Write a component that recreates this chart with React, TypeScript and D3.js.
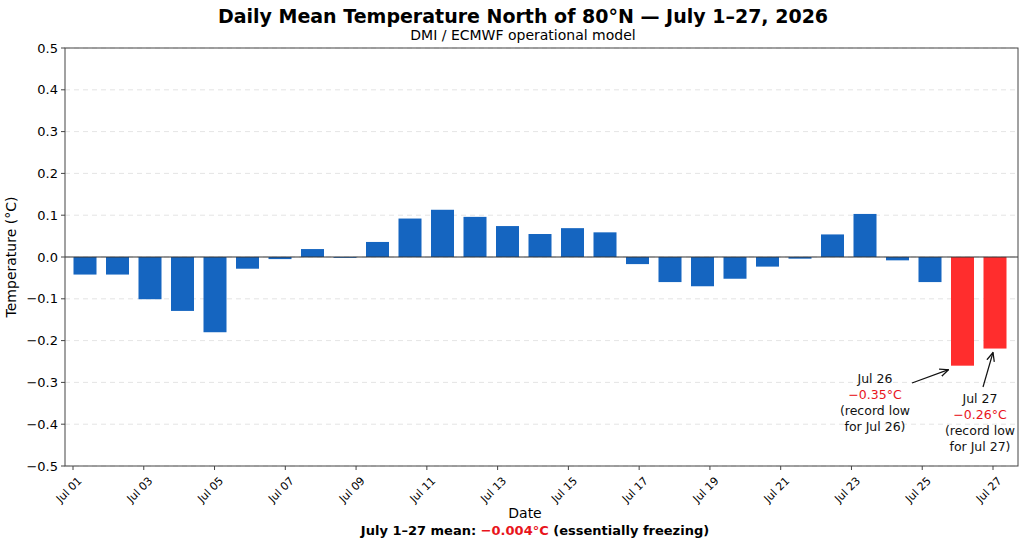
import { useRef, useEffect } from "react";
import * as d3 from "d3";

const values = [
  -0.042, -0.042, -0.101, -0.129, -0.18, -0.028, -0.005, 0.019, -0.002, 0.036,
  0.092, 0.113, 0.096, 0.074, 0.055, 0.069, 0.059, -0.017, -0.06, -0.07,
  -0.052, -0.023, -0.004, 0.054, 0.103, -0.008, -0.06, -0.26, -0.219,
];
const recordFlags = values.map((_, i) => i >= values.length - 2);
const tickDays = [1, 3, 5, 7, 9, 11, 13, 15, 17, 19, 21, 23, 25, 27];
const yTicks = [-0.5, -0.4, -0.3, -0.2, -0.1, 0, 0.1, 0.2, 0.3, 0.4, 0.5];
const notes = [
  { bar: 27, lines: ["Jul 26", "−0.35°C", "(record low", "for Jul 26)"], tx: 875, ty: 378, ax: 912, ay: 383 },
  { bar: 28, lines: ["Jul 27", "−0.26°C", "(record low", "for Jul 27)"], tx: 980, ty: 398, ax: 983, ay: 387 },
];

const W = 1024, H = 542;
const M = { left: 65, right: 1018, top: 48, bottom: 466 };
const font = "DejaVu Sans, sans-serif";

export default function App() {
  const ref = useRef<SVGSVGElement | null>(null);

  useEffect(() => {
    if (!ref.current) return;
    const svg = d3.select(ref.current);
    svg.selectAll("*").remove();

    const y = d3.scaleLinear().domain([-0.5, 0.5]).range([M.bottom, M.top]);
    const xDay = d3.scaleLinear().domain([1, 27]).range([73, 993]);
    const xBar = d3.scaleLinear().domain([0, values.length - 1]).range([85, 995]);
    const bw = 23;

    svg.append("rect").attr("width", W).attr("height", H).attr("fill", "#fff");

    // grid
    svg.append("g").selectAll("line").data(yTicks).join("line")
      .attr("x1", M.left).attr("x2", M.right)
      .attr("y1", (d) => y(d)).attr("y2", (d) => y(d))
      .attr("stroke", "#ddd").attr("stroke-dasharray", "5,4").attr("stroke-width", 0.8);

    // bars
    svg.append("g").selectAll("rect").data(values).join("rect")
      .attr("x", (_, i) => xBar(i) - bw / 2)
      .attr("width", bw)
      .attr("y", (d) => y(Math.max(0, d)))
      .attr("height", (d) => Math.abs(y(d) - y(0)))
      .attr("fill", (_, i) => (recordFlags[i] ? "#ff2d2d" : "#1565c0"));

    svg.append("line").attr("x1", M.left).attr("x2", M.right)
      .attr("y1", y(0)).attr("y2", y(0)).attr("stroke", "#333").attr("stroke-width", 1);

    // frame
    svg.append("rect").attr("x", M.left).attr("y", M.top)
      .attr("width", M.right - M.left).attr("height", M.bottom - M.top)
      .attr("fill", "none").attr("stroke", "#444").attr("stroke-width", 1);

    // y axis
    const ya = svg.append("g");
    ya.selectAll("line").data(yTicks).join("line")
      .attr("x1", M.left - 4).attr("x2", M.left).attr("y1", (d) => y(d)).attr("y2", (d) => y(d))
      .attr("stroke", "#444");
    ya.selectAll("text").data(yTicks).join("text")
      .attr("x", M.left - 7).attr("y", (d) => y(d)).attr("dy", "0.35em")
      .attr("text-anchor", "end").attr("font-size", 13).attr("font-family", font)
      .text((d) => d3.format(".1f")(d).replace("-", "−"));

    // x axis
    const xa = svg.append("g");
    xa.selectAll("line").data(tickDays).join("line")
      .attr("x1", (d) => xDay(d)).attr("x2", (d) => xDay(d))
      .attr("y1", M.bottom).attr("y2", M.bottom + 4).attr("stroke", "#444");
    xa.selectAll("text").data(tickDays).join("text")
      .attr("transform", (d) => `translate(${xDay(d) + 4},${M.bottom + 10}) rotate(-45)`)
      .attr("text-anchor", "end").attr("dy", "0.7em").attr("font-size", 11).attr("font-family", font)
      .text((d) => `Jul ${String(d).padStart(2, "0")}`);

    // annotations
    svg.append("defs").append("marker").attr("id", "arr").attr("viewBox", "0 0 10 10")
      .attr("refX", 9).attr("refY", 5).attr("markerWidth", 8).attr("markerHeight", 8)
      .attr("orient", "auto").append("path").attr("d", "M0,1 L9,5 L0,9").attr("fill", "none")
      .attr("stroke", "#111").attr("stroke-width", 1.3);
    notes.forEach((n) => {
      svg.append("line").attr("x1", n.ax).attr("y1", n.ay)
        .attr("x2", xBar(n.bar) - (n.bar === 27 ? 14 : 2)).attr("y2", y(values[n.bar]) + 4)
        .attr("stroke", "#111").attr("stroke-width", 1.2).attr("marker-end", "url(#arr)");
      n.lines.forEach((l, j) => {
        svg.append("text").attr("x", n.tx).attr("y", n.ty + j * 16 + 5)
          .attr("text-anchor", "middle").attr("font-size", 12.5).attr("font-family", font)
          .attr("fill", j === 1 ? "#e8141c" : "#111").text(l);
      });
    });

    // titles
    svg.append("text").attr("x", 523).attr("y", 23).attr("text-anchor", "middle")
      .attr("font-size", 19).attr("font-weight", "bold").attr("font-family", font)
      .text("Daily Mean Temperature North of 80°N — July 1–27, 2026");
    svg.append("text").attr("x", 523).attr("y", 40).attr("text-anchor", "middle")
      .attr("font-size", 14).attr("font-family", font).text("DMI / ECMWF operational model");
    svg.append("text").attr("transform", `translate(16,${(M.top + M.bottom) / 2}) rotate(-90)`)
      .attr("text-anchor", "middle").attr("font-size", 14).attr("font-family", font)
      .text("Temperature (°C)");
    svg.append("text").attr("x", 525).attr("y", 518).attr("text-anchor", "middle")
      .attr("font-size", 14).attr("font-family", font).text("Date");
    const foot = svg.append("text").attr("x", 535).attr("y", 535).attr("text-anchor", "middle")
      .attr("font-size", 13).attr("font-weight", "bold").attr("font-family", font);
    foot.append("tspan").text("July 1–27 mean: ");
    foot.append("tspan").attr("fill", "#e8141c").text("−0.004°C");
    foot.append("tspan").text(" (essentially freezing)");
  }, []);

  return (
    <div style={{ position: "absolute", left: 0, top: 0 }}>
      <svg ref={ref} width={W} height={H} style={{ display: "block" }} />
    </div>
  );
}
